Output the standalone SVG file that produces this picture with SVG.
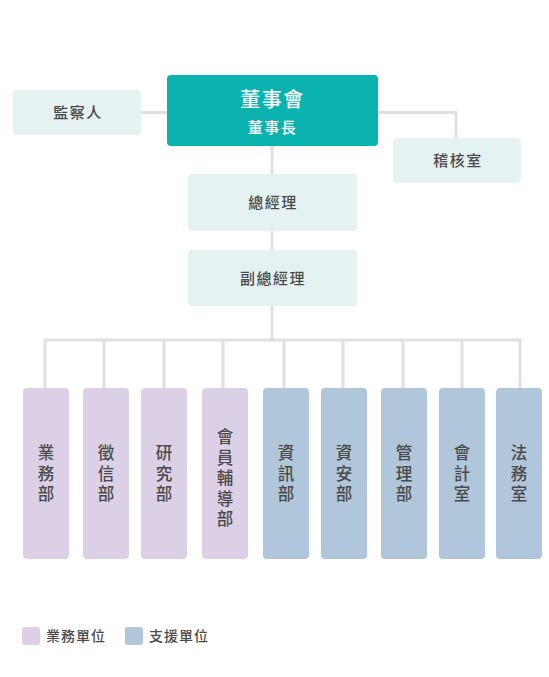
<svg xmlns="http://www.w3.org/2000/svg" width="549" height="677" viewBox="0 0 549 677">
<style>
text{font-family:"Noto Sans CJK TC","Noto Sans CJK SC",sans-serif;fill:#4a4a4a;text-anchor:middle;font-weight:500}
.lt{fill:#e4f2f2}
.pu{fill:#dcd0e6}
.bl{fill:#b0c6da}
.ln{stroke:#e0e0e0;stroke-width:3;fill:none}
.s{font-size:15px;letter-spacing:1.5px}
.v{font-size:16.5px}
</style>
<rect width="549" height="677" fill="#fff"/>
<g id="connectors" class="ln">
<path d="M141 112.5H167M378 112.5H456V138"/>
<path d="M272 146V340"/>
<path d="M45 388V340H520V388"/>
<path d="M104 340V388M164 340V388M223 340V388M284 340V388M343 340V388M403 340V388M462 340V388"/>
</g>
<g id="board"><rect x="167" y="75" width="211" height="71" rx="4" fill="#0bb3b0"/><text x="272.5" y="107" style="fill:#fff;font-size:20px;letter-spacing:1.5px">董事會</text><text x="272.5" y="133" style="fill:#fff;font-size:15px;letter-spacing:1.5px">董事長</text></g>
<g id="supervisor"><rect class="lt" x="13" y="90" width="128" height="45" rx="4"/><text class="s" x="78" y="118">監察人</text></g>
<g id="audit"><rect class="lt" x="393" y="138" width="128" height="45" rx="4"/><text class="s" x="458" y="166">稽核室</text></g>
<g id="gm"><rect class="lt" x="188" y="174" width="169" height="57" rx="4"/><text class="s" x="273" y="208">總經理</text></g>
<g id="dgm"><rect class="lt" x="188" y="250" width="169" height="56" rx="4"/><text class="s" x="273" y="284">副總經理</text></g>
<g id="d1"><rect class="pu" x="23" y="388" width="46" height="171" rx="4"/><text class="v" x="46" y="459">業</text><text class="v" x="46" y="479.5">務</text><text class="v" x="46" y="500">部</text></g>
<g id="d2"><rect class="pu" x="83" y="388" width="46" height="171" rx="4"/><text class="v" x="106" y="459">徵</text><text class="v" x="106" y="479.5">信</text><text class="v" x="106" y="500">部</text></g>
<g id="d3"><rect class="pu" x="141" y="388" width="46" height="171" rx="4"/><text class="v" x="164" y="459">研</text><text class="v" x="164" y="479.5">究</text><text class="v" x="164" y="500">部</text></g>
<g id="d4"><rect class="pu" x="202" y="388" width="46" height="171" rx="4"/><text class="v" x="225" y="443">會</text><text class="v" x="225" y="463.5">員</text><text class="v" x="225" y="484">輔</text><text class="v" x="225" y="504.5">導</text><text class="v" x="225" y="525">部</text></g>
<g id="d5"><rect class="bl" x="263" y="388" width="46" height="171" rx="4"/><text class="v" x="286" y="459">資</text><text class="v" x="286" y="479.5">訊</text><text class="v" x="286" y="500">部</text></g>
<g id="d6"><rect class="bl" x="321" y="388" width="46" height="171" rx="4"/><text class="v" x="344" y="459">資</text><text class="v" x="344" y="479.5">安</text><text class="v" x="344" y="500">部</text></g>
<g id="d7"><rect class="bl" x="381" y="388" width="46" height="171" rx="4"/><text class="v" x="404" y="459">管</text><text class="v" x="404" y="479.5">理</text><text class="v" x="404" y="500">部</text></g>
<g id="d8"><rect class="bl" x="439" y="388" width="46" height="171" rx="4"/><text class="v" x="462" y="459">會</text><text class="v" x="462" y="479.5">計</text><text class="v" x="462" y="500">室</text></g>
<g id="d9"><rect class="bl" x="496" y="388" width="46" height="171" rx="4"/><text class="v" x="519" y="459">法</text><text class="v" x="519" y="479.5">務</text><text class="v" x="519" y="500">室</text></g>
<g id="legend">
<rect class="pu" x="22" y="627" width="18" height="18" rx="3"/><text x="76" y="641" style="font-size:14px;letter-spacing:1px">業務單位</text>
<rect class="bl" x="125" y="627" width="18" height="18" rx="3"/><text x="179" y="641" style="font-size:14px;letter-spacing:1px">支援單位</text>
</g>
</svg>
